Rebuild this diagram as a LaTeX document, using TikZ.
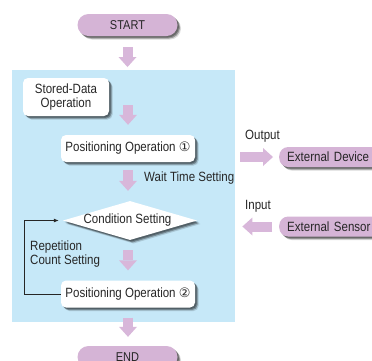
\documentclass[tikz,border=0pt]{standalone}
\usepackage{fontspec}
\setmainfont[FakeStretch=0.86]{Liberation Sans}
\newfontfamily\circfont{DejaVu Sans}
\usetikzlibrary{shapes.geometric,shadows,calc,arrows.meta}
\definecolor{purp}{HTML}{D5B4D6}
\definecolor{arrc}{HTML}{D8B7DA}
\definecolor{bluebg}{HTML}{C6E8F8}
\definecolor{txt}{HTML}{262626}
\tikzset{
  shad/.style={
    drop shadow={shadow xshift=3.5pt,shadow yshift=-3.5pt,fill=black,opacity=0.15},
    drop shadow={shadow xshift=2.5pt,shadow yshift=-2.5pt,fill=black,opacity=0.3},
    drop shadow={shadow xshift=1.5pt,shadow yshift=-1.5pt,fill=black,opacity=0.3}},
  txtfont/.style={text=txt,font=\fontsize{13.4}{14.5}\selectfont},
  term/.style={shad,fill=purp,rounded corners=11pt,minimum width=100pt,minimum height=22pt,inner sep=0pt,txtfont,font=\fontsize{12.8}{14}\selectfont},
  whitebox/.style={shad,fill=white,rounded corners=5pt,inner sep=0pt,txtfont},
  extbox/.style={shad,fill=purp,rounded corners=9pt,minimum height=20pt,text width=112pt,align=left,inner xsep=8pt,inner ysep=0pt,anchor=west,txtfont},
  lbl/.style={txtfont,inner sep=0pt},
  blk/.style={draw=arrc,line width=10pt,-{Triangle[width=18pt,length=10pt,line width=0pt]}},
  loopline/.style={draw=txt,line width=0.8pt,-{Latex[length=5pt,width=4pt]}},
}
\begin{document}
\begin{tikzpicture}[x=1pt,y=-1pt]
\useasboundingbox (0,0) rectangle (372,360);
\clip (0,0) rectangle (372,360);
\fill[white] (0,0) rectangle (372,360);
% panel
\node[fill=bluebg,minimum width=223pt,minimum height=252pt,inner sep=0pt,anchor=north west] (panel) at (12,70) {};
% nodes
\node[term] (start) at (127.5,25) {START};
\node[term] (end) at (127.5,357) {END};
\node[whitebox,minimum width=86pt,minimum height=38pt,align=center] (stored) at (66,97) {Stored-Data\\Operation};
\node[whitebox,minimum width=134pt,minimum height=27pt] (pos1) at (128,148.5) {Positioning Operation {\circfont\fontsize{13}{14}\selectfont ①}};
\node[shad,diamond,fill=white,minimum width=134pt,minimum height=39pt,aspect=3.4,inner sep=0pt,txtfont] (cond) at (130,220.5) {};
\node[lbl] (condtxt) at (127.5,220.5) {Condition Setting};
\node[whitebox,minimum width=134pt,minimum height=27pt] (pos2) at (128,294) {Positioning Operation {\circfont\fontsize{13}{14}\selectfont ②}};
\node[extbox] (dev) at (279,157) {External Device};
\node[extbox] (sens) at (279,226.5) {External Sensor};
% labels
\node[lbl,anchor=west] (wait) at (144,178) {Wait Time Setting};
\node[lbl,anchor=north west,align=left] (rep) at (30,240.5) {Repetition\\Count Setting};
\node[lbl,anchor=west] (out) at (245,136) {Output};
\node[lbl,anchor=west] (in) at (245,206) {Input};
% block arrows
\coordinate (a1s) at ($(start.south)+(0,11)$);
\coordinate (a1e) at ($(panel.north)+(0,-3)$);
\draw[blk] (a1s -| start) -- (a1e -| start);
\coordinate (a2s) at (128,105);
\coordinate (a2e) at ($(pos1.north)+(0,-10)$);
\draw[blk] (a2s) -- (a2e);
\draw[blk] ($(pos1.south)+(0,8)$) -- ($(cond.north)+(-2,-10)$);
\draw[blk] (128,250) -- ($(pos2.north)+(0,-10)$);
\draw[blk] ($(pos2.south)+(0,10)$) -- ($(end.north)+(0.5,-9)$);
\draw[blk] ($(panel.east |- dev)+(5,0)$) -- ($(dev.west)+(-6,0)$);
\draw[blk] ($(sens.west)+(-7,0)$) -- ($(panel.east |- sens)+(7,0)$);
% repetition loop
\coordinate (lb) at (24,294);
\coordinate (lt) at (24,220.5);
\draw[loopline,shorten >=4pt] (pos2.west) -- (lb) -- (lt) -- (cond.west);
\end{tikzpicture}
\end{document}
